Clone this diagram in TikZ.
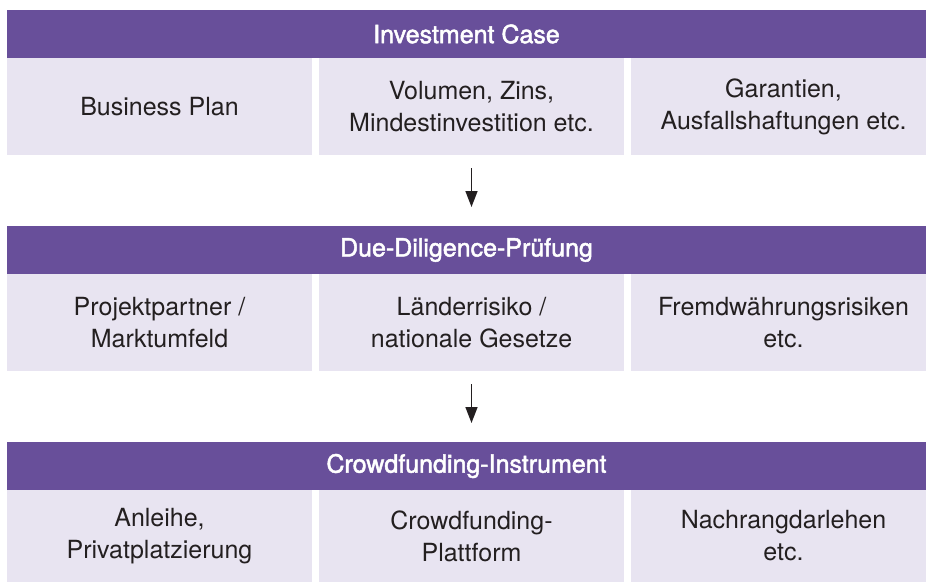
\documentclass[tikz,border=0pt]{standalone}
\usepackage{fontspec}
\setmainfont{TeX Gyre Heros}
\usetikzlibrary{arrows.meta}
\definecolor{headpurple}{HTML}{684F9A}
\definecolor{celllilac}{HTML}{E8E4F1}
\definecolor{celltext}{HTML}{231F20}
\begin{document}
\begin{tikzpicture}[x=1pt,y=-1pt,
  headbar/.style={fill=headpurple,text=white,inner sep=0pt,outer sep=0pt,
    minimum width=919pt,minimum height=48pt,anchor=north west,
    font=\fontsize{25}{32}\selectfont\addfontfeature{FakeBold=2}},
  cellbox/.style={fill=celllilac,text=celltext,inner sep=0pt,outer sep=0pt,
    minimum width=305pt,minimum height=97pt,anchor=north west,align=center,
    font=\fontsize{25}{32}\selectfont},
  flowarrow/.style={draw=celltext,line width=1.5pt,
    -{Triangle[length=16pt,width=12pt]},shorten <=13pt,shorten >=19pt}]
\useasboundingbox (0,0) rectangle (926,582);

% Stage 1
\node[headbar] (h1) at (7,10) {Investment Case};
\node[cellbox] (a1) at (7,58)  {Business Plan};
\node[cellbox] (b1) at (319,58) {Volumen, Zins,\\Mindestinvestition etc.};
\node[cellbox] (c1) at (631,58) {Garantien,\\Ausfallshaftungen etc.};

% Stage 2
\node[headbar] (h2) at (7,226) {Due-Diligence-Prüfung};
\node[cellbox] (a2) at (7,274)  {Projektpartner /\\Marktumfeld};
\node[cellbox] (b2) at (319,274) {Länderrisiko /\\nationale Gesetze};
\node[cellbox] (c2) at (631,274) {Fremdwährungsrisiken\\etc.};

% Stage 3
\node[headbar] (h3) at (7,442) {Crowdfunding-Instrument};
\node[cellbox,minimum height=92pt] (a3) at (7,490)  {Anleihe,\\Privatplatzierung};
\node[cellbox,minimum height=92pt] (b3) at (319,490) {Crowdfunding-\\Plattform};
\node[cellbox,minimum height=92pt] (c3) at (631,490) {Nachrangdarlehen\\etc.};

% Flow between stages
\draw[flowarrow] (b1.south) -- (b1.south |- h2.north);
\draw[flowarrow] (b2.south) -- (b2.south |- h3.north);
\end{tikzpicture}
\end{document}
